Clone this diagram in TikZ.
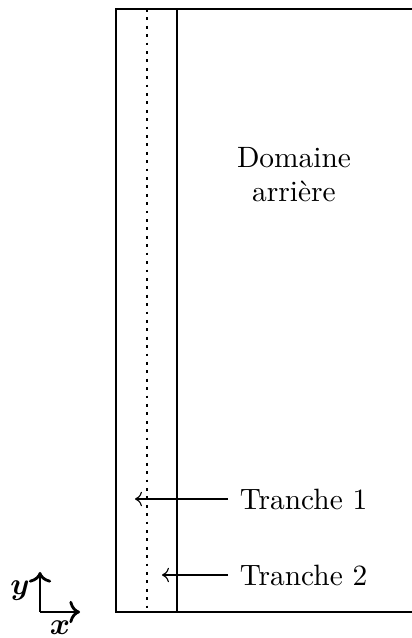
\documentclass[tikz,border=0pt]{standalone}
\usepackage{amsmath,bm}
\usetikzlibrary{positioning,arrows.meta}

\begin{document}
\begin{tikzpicture}[
  x=0.357pt,y=0.357pt,
  font=\fontsize{10.5}{12.2}\selectfont,
  wall/.style={line width=1pt},
  slice/.style={line width=1pt,dotted},
  pointer/.style={->,thin},
  axis/.style={->,line width=1pt},
  label/.style={inner sep=4pt,anchor=west}
]
  \useasboundingbox (0,0) rectangle (411,638);

  % domaine
  \draw[wall] (415,629) -- (116,629) -- (116,26) -- (415,26);
  \draw[wall] (177,629) -- (177,26);
  \draw[slice] (147,629) -- (147,26);
  \node[align=center] (dom) at (294,463) {Domaine\\arri\`ere};

  % tranches
  \node[label] (t1) at (228,139) {Tranche 1};
  \node[label] (t2) at (228,63) {Tranche 2};
  \coordinate (p1) at (135,139);
  \coordinate (p2) at (162,63);
  \draw[pointer] (t1.west) -- (p1);
  \draw[pointer] (t2.west) -- (p2);

  % repere
  \coordinate (o) at (40,26);
  \coordinate (ey) at (40,66);
  \coordinate (ex) at (80,26);
  \draw[axis] (o) -- (ey);
  \draw[axis] (o) -- (ex);
  \node (ly) at (20,47) {$\bm{y}$};
  \node (lx) at (60,10) {$\bm{x}$};
\end{tikzpicture}
\end{document}
